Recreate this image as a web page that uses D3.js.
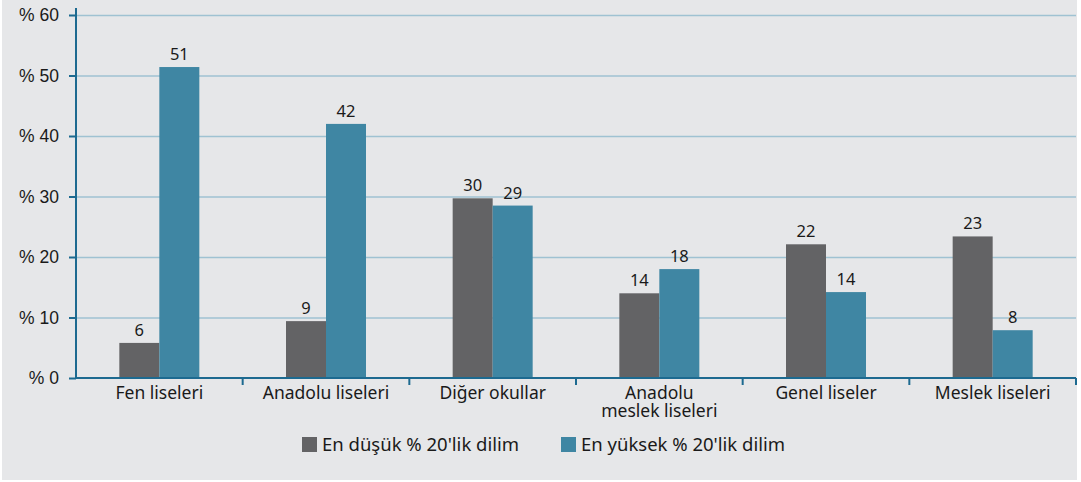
<!DOCTYPE html>
<html>
<head>
<meta charset="utf-8">
<script src="https://cdn.jsdelivr.net/npm/d3@7"></script>
<style>
  body { margin: 0; background: #fff; }
  svg { display: block; font-family: "Noto Sans", "DejaVu Sans", sans-serif; }
  .grid line { stroke: #9fc2d2; stroke-width: 1.5; }
  .axis path, .axis line { stroke: #1d6a90; stroke-width: 2; }
  .axis text { fill: #1a1a1a; font-size: 17.5px; }
</style>
</head>
<body>
<svg width="1081" height="482"></svg>
<script>
var categories = ["Fen liseleri", "Anadolu liseleri", "Diğer okullar", "Anadolu\nmeslek liseleri", "Genel liseler", "Meslek liseleri"];
var seriesNames = ["En düşük % 20'lik dilim", "En yüksek % 20'lik dilim"];
var lowest = [5.8, 9.4, 29.7, 14.0, 22.1, 23.4];
var highest = [51.4, 42.0, 28.5, 18.0, 14.2, 7.9];
var yTicks = [0, 10, 20, 30, 40, 50, 60];

var svg = d3.select("svg"),
    margin = {top: 15, right: 5, bottom: 104, left: 76},
    width = 1076 - margin.left,
    height = 378 - margin.top;

svg.append("rect")
    .attr("x", 2).attr("y", 0)
    .attr("width", 1075).attr("height", 480)
    .attr("fill", "#e6e7e9");

var g = svg.append("g").attr("transform", "translate(" + margin.left + "," + margin.top + ")");

var color = ["#636365", "#3f86a3"];

var x0 = d3.scaleBand().domain(categories).range([0, width]),
    x1 = d3.scaleBand().domain([0, 1]).range([x0.bandwidth() / 2 - 40, x0.bandwidth() / 2 + 40]),
    y = d3.scaleLinear().domain([0, 60]).range([height, 0]);

var data = categories.map(function(c, i) {
  return {cat: c, values: [lowest[i], highest[i]]};
});

// gridlines
g.append("g")
    .attr("class", "grid")
    .call(d3.axisLeft(y).tickValues(yTicks.slice(1)).tickSize(-width).tickFormat(""))
  .select(".domain").remove();

var group = g.selectAll(".cat")
  .data(data)
  .enter().append("g")
    .attr("class", "cat")
    .attr("transform", function(d) { return "translate(" + x0(d.cat) + ",0)"; });

group.selectAll("rect")
  .data(function(d) { return d.values.map(function(v, k) { return {k: k, v: v}; }); })
  .enter().append("rect")
    .attr("x", function(d) { return x1(d.k); })
    .attr("width", x1.bandwidth())
    .attr("y", function(d) { return y(d.v); })
    .attr("height", function(d) { return height - y(d.v); })
    .attr("fill", function(d) { return color[d.k]; });

group.selectAll(".lbl")
  .data(function(d) { return d.values.map(function(v, k) { return {k: k, v: v}; }); })
  .enter().append("text")
    .attr("class", "lbl")
    .attr("x", function(d) { return x1(d.k) + x1.bandwidth() / 2; })
    .attr("y", function(d) { return y(d.v) - 7; })
    .attr("text-anchor", "middle")
    .attr("font-size", 16.5)
    .attr("fill", "#1a1a1a")
    .text(function(d) { return Math.round(d.v); });

// y axis
g.append("g")
    .attr("class", "axis")
    .call(d3.axisLeft(y).tickValues(yTicks).tickSize(7).tickPadding(10).tickFormat(function(d) { return "% " + d; }))
  .select(".domain").attr("d", "M0," + (height) + "V-7");

// x axis with ticks at band boundaries
var xa = g.append("g")
    .attr("class", "axis")
    .attr("transform", "translate(0," + height + ")");
xa.append("line").attr("x1", 0).attr("x2", width);
xa.selectAll(".tk")
  .data(categories.map(function(c) { return x0(c) + x0.bandwidth(); }))
  .enter().append("line")
    .attr("x1", function(d) { return d; }).attr("x2", function(d) { return d; })
    .attr("y1", 0).attr("y2", 7);

xa.selectAll(".xl")
  .data(categories)
  .enter().append("text")
    .attr("text-anchor", "middle")
    .attr("font-size", 15)
    .attr("fill", "#1a1a1a")
    .attr("transform", function(d) { return "translate(" + (x0(d) + x0.bandwidth() / 2) + ",21)"; })
    .selectAll("tspan")
    .data(function(d) { return d.split("\n"); })
    .enter().append("tspan")
      .attr("x", 0)
      .attr("dy", function(d, i) { return i ? 18 : 0; })
      .text(function(d) { return d; });

// legend
var legendX = [302, 561];
var legend = svg.selectAll(".legend")
  .data(seriesNames)
  .enter().append("g")
    .attr("transform", function(d, i) { return "translate(" + legendX[i] + ",437)"; });
legend.append("rect").attr("width", 15).attr("height", 15).attr("fill", function(d, i) { return color[i]; });
legend.append("text")
    .attr("x", 20).attr("y", 14)
    .attr("font-size", 18.5)
    .attr("fill", "#1a1a1a")
    .text(function(d) { return d; });
</script>
</body>
</html>
